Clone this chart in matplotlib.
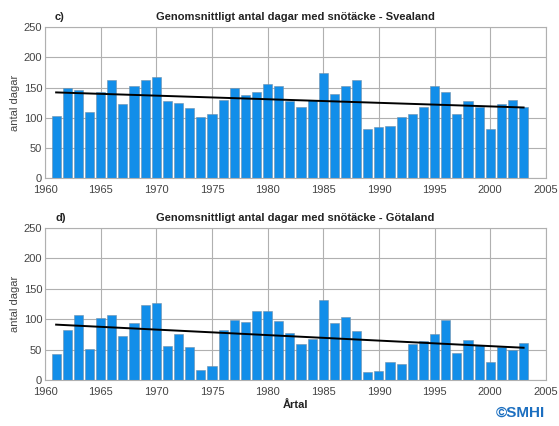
import matplotlib.pyplot as plt
import numpy as np

plt.rcParams['font.family'] = ['Liberation Sans', 'DejaVu Sans']

years = list(range(1961, 2004))

svealand = [103, 149, 146, 110, 143, 162, 123, 152, 162, 168,
            128, 125, 116, 102, 107, 129, 149, 138, 142, 156,
            152, 127, 117, 130, 175, 140, 152, 162, 81, 85,
            86, 102, 106, 117, 153, 142, 107, 127, 117, 82,
            123, 129, 118]

gotaland = [43, 83, 107, 51, 102, 107, 73, 94, 123, 126,
            56, 76, 54, 17, 23, 83, 98, 96, 113, 113,
            97, 77, 59, 68, 132, 93, 103, 81, 13, 15,
            29, 26, 59, 64, 75, 98, 45, 66, 57, 29,
            54, 49, 61]

# trend line end points
trend_years = [1961, 2003]
trend_svea = [142, 117]
trend_gota = [91, 53]

bar_color = '#128ee9'

fig = plt.figure(figsize=(5.59, 4.26), dpi=100)
ax1 = fig.add_axes([0.0805, 0.582, 0.896, 0.354])
ax2 = fig.add_axes([0.0805, 0.108, 0.896, 0.357])

panels = [(ax1, svealand, trend_svea, 'c)', 'Svealand'),
          (ax2, gotaland, trend_gota, 'd)', 'Götaland')]

for ax, vals, trend, letter, region in panels:
    ax.set_axisbelow(True)
    ax.grid(True, color='#b0b0b0', linewidth=0.8)
    ax.bar(years, vals, width=0.82, color=bar_color, edgecolor='#7090aa', linewidth=0.4)
    ax.plot(trend_years, trend, color='black', linewidth=1.4)
    ax.set_xlim(1960, 2005)
    ax.set_ylim(0, 250)
    ax.set_xticks(range(1960, 2006, 5))
    ax.set_yticks(range(0, 251, 50))
    ax.tick_params(labelsize=8, colors='#555555', length=0)
    ax.tick_params(axis='x', labelcolor='#444444', pad=5)
    ax.tick_params(axis='y', labelcolor='#444444', pad=2)
    for s in ax.spines.values():
        s.set_color('#b0b0b0')
        s.set_linewidth(0.8)
    ax.set_ylabel('antal dagar', fontsize=8, color='#444444', labelpad=3)
    ax.set_title('Genomsnittligt antal dagar med snötäcke - ' + region,
                 fontsize=8, fontweight='bold', color='#222222', pad=5)
    ax.text(0.02, 1.035, letter, transform=ax.transAxes, fontsize=8,
            fontweight='bold', color='#222222', va='bottom')

ax2.set_xlabel('Årtal', fontsize=8, fontweight='bold', color='#222222', labelpad=2)

fig.text(0.975, 0.015, '©SMHI', fontsize=11, fontweight='bold', color='#1c6fc0',
         ha='right', va='bottom')

fig.savefig('out.png', dpi=100)
